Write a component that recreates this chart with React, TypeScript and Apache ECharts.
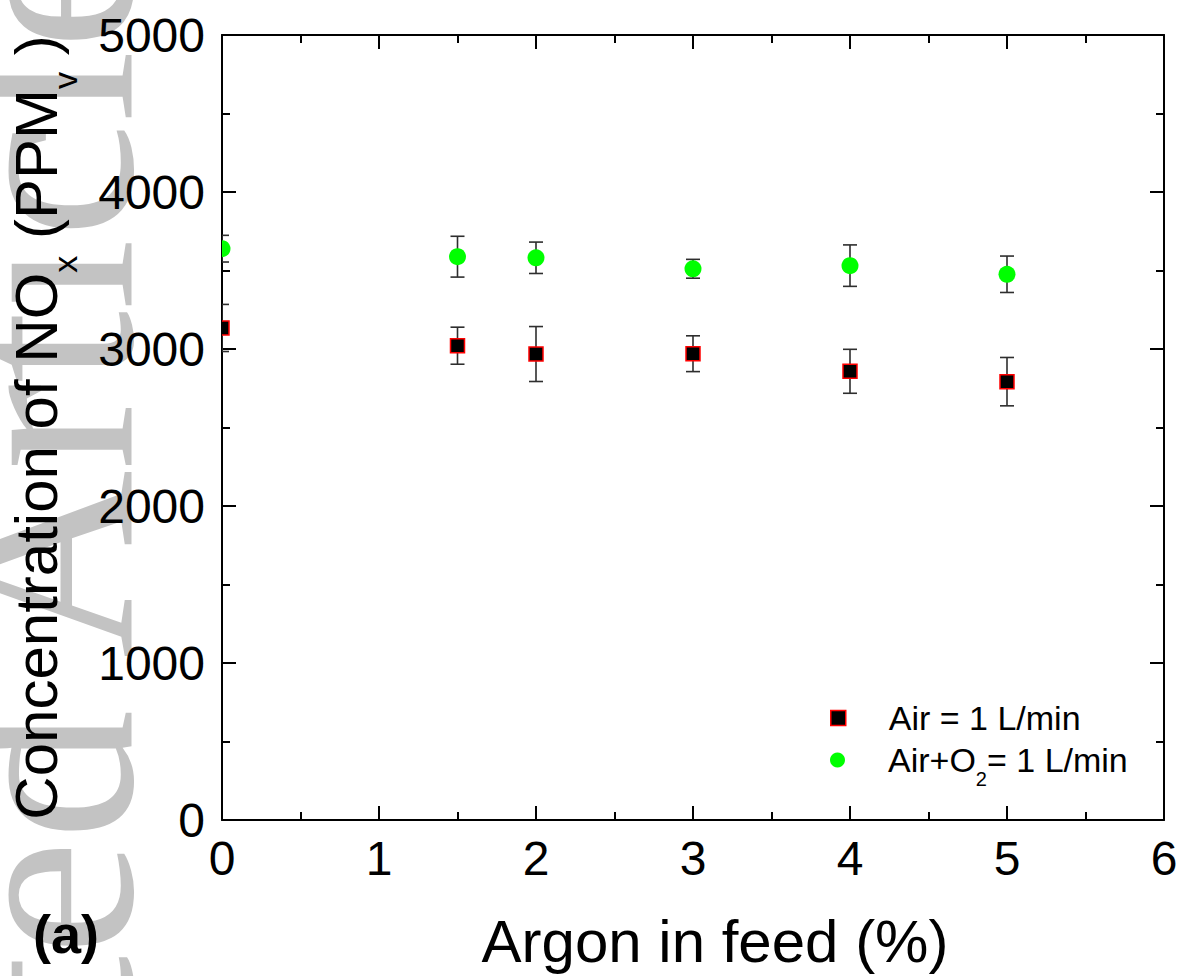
import React, { useEffect, useRef } from "react";
import * as echarts from "echarts";

// Argon fraction in the feed (%)
const argon = [0, 1.5, 2, 3, 4, 5];
// NOx concentration (ppmv) and error bars, air feed 1 L/min
const airMean = [3134, 3021, 2968, 2970, 2858, 2792];
const airErr = [150, 118, 175, 114, 140, 154];
// NOx concentration (ppmv) and error bars, air + O2 feed 1 L/min
const o2Mean = [3639, 3588, 3581, 3511, 3531, 3476];
const o2Err = [85, 130, 100, 60, 132, 116];

const xTicks = { min: 0, max: 6, interval: 1 };
const yTicks = { min: 0, max: 5000, interval: 1000 };

const AIR_NAME = "Air = 1 L/min";
const O2_NAME = "Air+O2= 1 L/min";

const FONT = "Liberation Sans";

function makeRender(kind: "square" | "circle") {
  return (params: any, api: any) => {
    const x = api.value(0);
    const y = api.value(1);
    const e = api.value(2);
    const c = api.coord([x, y]);
    const top = api.coord([x, y + e]);
    const bot = api.coord([x, y - e]);
    const cap = 7;
    const stroke = { stroke: "#2e2e2e", lineWidth: 1.6 };
    const children: any[] = [
      { type: "line", shape: { x1: c[0], y1: top[1], x2: c[0], y2: bot[1] }, style: stroke },
      { type: "line", shape: { x1: c[0] - cap, y1: top[1], x2: c[0] + cap, y2: top[1] }, style: stroke },
      { type: "line", shape: { x1: c[0] - cap, y1: bot[1], x2: c[0] + cap, y2: bot[1] }, style: stroke },
    ];
    if (kind === "square") {
      children.push({
        type: "rect",
        shape: { x: c[0] - 7, y: c[1] - 7, width: 14, height: 14 },
        style: { fill: "#000000", stroke: "#ff0000", lineWidth: 1.5 },
      });
    } else {
      children.push({
        type: "circle",
        shape: { cx: c[0], cy: c[1], r: 8.5 },
        style: { fill: "#00ff00" },
      });
    }
    return { type: "group", children };
  };
}

const legendRich = {
  sp: { width: 38, fontSize: 34 },
  a: { fontSize: 34, fontFamily: FONT, color: "#000" },
  b: { fontSize: 34, lineHeight: 58, fontFamily: FONT, color: "#000" },
  s: { fontSize: 20, verticalAlign: "bottom", fontFamily: FONT, color: "#000" },
};

function legendFor(name: string, icon: string, itemStyle: any, top: number, text: string) {
  return {
    orient: "vertical",
    left: 830,
    top,
    padding: 0,
    itemWidth: 15,
    itemHeight: 15,
    selectedMode: false,
    data: [{ name, icon, itemStyle }],
    formatter: () => text,
    textStyle: { color: "#000", fontFamily: FONT, fontSize: 34, rich: legendRich },
  };
}

export default function App() {
  const ref = useRef<HTMLDivElement>(null);

  useEffect(() => {
    if (!ref.current) return;
    const chart = echarts.init(ref.current, null, { renderer: "svg" });

    const airData = argon.map((x, i) => [x, airMean[i], airErr[i]]);
    const o2Data = argon.map((x, i) => [x, o2Mean[i], o2Err[i]]);

    const axisLine = { show: true, onZero: false, lineStyle: { color: "#000", width: 2 } };
    const axisTick = { show: true, inside: true, length: 14, lineStyle: { color: "#000", width: 2 } };
    const minorTick = { show: true, splitNumber: 2, length: 8, lineStyle: { color: "#000", width: 2 } };
    const plain = (v: number) => String(v);

    chart.setOption({
      animation: false,
      backgroundColor: "#ffffff",
      textStyle: { fontFamily: FONT },
      grid: { left: 222, right: 16, top: 35, bottom: 156, containLabel: false, outerBoundsMode: "none" },
      graphic: [
        {
          type: "text",
          x: 43,
          y: -66,
          rotation: Math.PI / 2,
          z: -1,
          silent: true,
          style: {
            text: "Accepted Article",
            fontFamily: "Liberation Serif",
            fontSize: 261,
            fill: "#c3c3c3",
            align: "right",
            verticalAlign: "middle",
          },
        },
        {
          type: "text",
          x: 33,
          y: 934,
          z: 10,
          style: {
            text: "(a)",
            fontFamily: FONT,
            fontWeight: "bold",
            fontSize: 54,
            fill: "#000",
            align: "left",
            verticalAlign: "middle",
          },
        },
      ],
      legend: [
        legendFor(
          AIR_NAME,
          "rect",
          { color: "#000", borderColor: "#ff0000", borderWidth: 1.5 },
          701,
          "{sp|\u00a0}{a|Air = 1 L/min}"
        ),
        legendFor(
          O2_NAME,
          "circle",
          { color: "#00ff00", borderWidth: 0 },
          743,
          "{sp|\u00a0}{b|Air+O}{s|2}{b|= 1 L/min}"
        ),
      ],
      xAxis: [
        {
          type: "value",
          position: "bottom",
          min: xTicks.min,
          max: xTicks.max,
          interval: xTicks.interval,
          axisLine,
          axisTick,
          minorTick,
          splitLine: { show: false },
          axisLabel: { color: "#000", fontSize: 48, fontFamily: FONT, margin: 14, formatter: plain },
          name: "Argon in feed (%)",
          nameLocation: "middle",
          nameGap: 91,
          nameTextStyle: { color: "#000", fontSize: 60, fontFamily: FONT, padding: [0, 0, 0, 44] },
        },
        {
          type: "value",
          position: "top",
          min: xTicks.min,
          max: xTicks.max,
          interval: xTicks.interval,
          axisLine,
          axisTick,
          minorTick,
          splitLine: { show: false },
          axisLabel: { show: false },
        },
      ],
      yAxis: [
        {
          type: "value",
          position: "left",
          min: yTicks.min,
          max: yTicks.max,
          interval: yTicks.interval,
          axisLine,
          axisTick,
          minorTick,
          splitLine: { show: false },
          axisLabel: { color: "#000", fontSize: 48, fontFamily: FONT, margin: 17, formatter: plain },
          name: "{n|Concentration of NO}{s|x}{n| (PPM}{s|v}{n| )}",
          nameLocation: "middle",
          nameRotate: 90,
          nameGap: 140,
          nameTextStyle: {
            color: "#000",
            fontSize: 60,
            fontFamily: FONT,
            rich: {
              n: { fontSize: 60, lineHeight: 92, fontFamily: FONT, color: "#000" },
              s: { fontSize: 34, verticalAlign: "bottom", fontFamily: FONT, color: "#000" },
            },
          },
        },
        {
          type: "value",
          position: "right",
          min: yTicks.min,
          max: yTicks.max,
          interval: yTicks.interval,
          axisLine,
          axisTick,
          minorTick,
          splitLine: { show: false },
          axisLabel: { show: false },
        },
      ],
      series: [
        {
          name: AIR_NAME,
          type: "custom",
          xAxisIndex: 0,
          yAxisIndex: 0,
          clip: true,
          z: 3,
          itemStyle: { color: "#000", borderColor: "#ff0000", borderWidth: 1.5 },
          renderItem: makeRender("square"),
          encode: { x: 0, y: 1 },
          data: airData,
        },
        {
          name: O2_NAME,
          type: "custom",
          xAxisIndex: 0,
          yAxisIndex: 0,
          clip: true,
          z: 3,
          itemStyle: { color: "#00ff00" },
          renderItem: makeRender("circle"),
          encode: { x: 0, y: 1 },
          data: o2Data,
        },
      ],
    });

    return () => chart.dispose();
  }, []);

  return (
    <div
      ref={ref}
      style={{ position: "absolute", left: 0, top: 0, width: 1180, height: 976, background: "#fff" }}
    />
  );
}
